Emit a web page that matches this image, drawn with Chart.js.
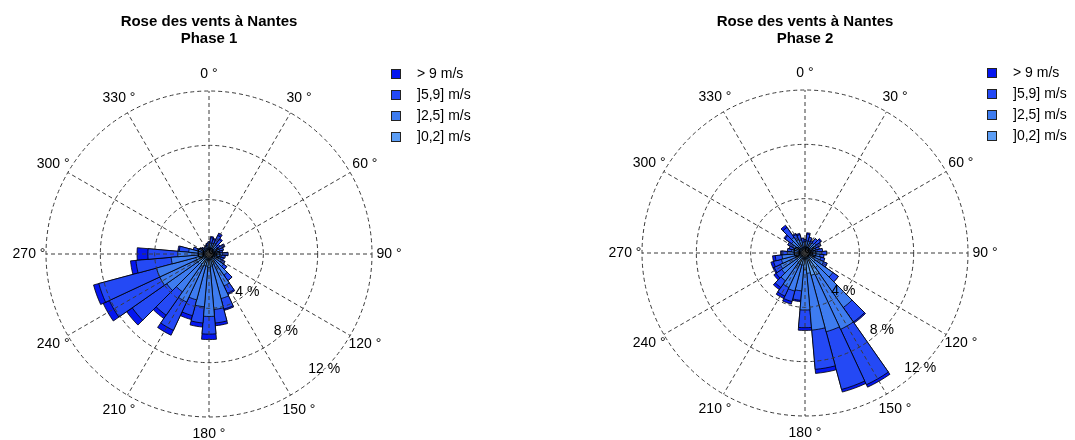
<!DOCTYPE html>
<html><head><meta charset="utf-8">
<script src="https://cdn.jsdelivr.net/npm/chart.js@4.4.0/dist/chart.umd.min.js"></script>
<style>
html,body{margin:0;padding:0;background:#fff;}
#wrap{position:relative;width:1075px;height:440px;overflow:hidden;}
canvas{position:absolute;top:0;}
</style></head><body>
<div id="wrap">
<canvas id="c1" width="537" height="440" style="left:0"></canvas>
<canvas id="c2" width="538" height="440" style="left:537px"></canvas>
</div>
<script>
// ---- data ----
const directions = [0,10,20,30,40,50,60,70,80,90,100,110,120,130,140,150,160,170,180,190,200,210,220,230,240,250,260,270,280,290,300,310,320,330,340,350];
const speedClasses = ['> 9 m/s', ']5,9] m/s', ']2,5] m/s', ']0,2] m/s'];
const speedColors = ['#0516F0', '#2449F5', '#3E7CF0', '#5C9EF6'];
const angleTicks = [0,30,60,90,120,150,180,210,240,270,300,330];
const radialTicks = [0,4,8,12];
const titleMain = 'Rose des vents à Nantes';
const phaseTitles = ['Phase 1', 'Phase 2'];

// Phase 1 (% per direction, per speed class)
const phase1_0_2 = [0.3,0.3,0.3,0.3,0.3,0.3,0.3,0.3,0.3,0.4,0.4,0.4,0.4,0.5,0.6,0.7,0.8,0.9,1.0,0.9,0.9,1.0,0.9,1.0,1.0,1.0,0.8,0.7,0.5,0.4,0.3,0.3,0.3,0.3,0.3,0.3];
const phase1_2_5 = [0.4,0.5,0.5,0.6,0.5,0.4,0.5,0.5,0.4,0.6,0.5,0.5,0.6,0.8,1.3,1.9,2.6,3.2,3.6,3.0,2.6,2.9,2.5,2.8,3.0,3.0,2.0,1.6,1.0,0.5,0.3,0.3,0.2,0.2,0.3,0.3];
const phase1_5_9 = [0.2,0.4,0.3,0.6,0.5,0.3,0.4,0.3,0.3,0.4,0.3,0.2,0.3,0.3,0.5,0.6,0.8,1.0,1.3,1.2,1.2,2.3,2.1,3.1,4.1,4.4,2.6,2.2,0.7,0.3,0.2,0.1,0.1,0.1,0.1,0.2];
const phase1_gt9 = [0.0,0.1,0.1,0.2,0.1,0.0,0.1,0.0,0.0,0.0,0.0,0.0,0.0,0.0,0.0,0.1,0.1,0.2,0.4,0.3,0.3,0.4,0.3,0.5,0.5,0.4,0.4,0.8,0.1,0.0,0.0,0.0,0.0,0.0,0.0,0.0];

// Phase 2
const phase2_0_2 = [0.4,0.4,0.4,0.4,0.4,0.4,0.4,0.4,0.4,0.5,0.5,0.5,0.6,0.9,1.3,1.8,1.7,1.5,1.2,0.9,0.9,0.9,0.8,0.7,0.7,0.6,0.6,0.5,0.4,0.4,0.4,0.4,0.4,0.4,0.4,0.4];
const phase2_2_5 = [0.4,0.5,0.5,0.4,0.5,0.6,0.5,0.4,0.5,0.7,0.6,0.7,0.9,1.6,3.6,4.4,4.3,4.2,3.0,1.9,2.0,1.9,1.7,1.4,1.3,1.2,1.1,0.8,0.6,0.5,0.6,0.8,1.0,0.7,0.6,0.4];
const phase2_5_9 = [0.2,0.5,0.3,0.2,0.4,0.4,0.4,0.3,0.4,0.4,0.3,0.3,0.3,0.5,1.3,4.5,4.4,2.9,1.3,0.7,0.8,0.7,0.6,0.5,0.5,0.6,0.5,0.4,0.3,0.3,0.4,0.6,0.9,0.4,0.4,0.3];
const phase2_gt9 = [0.0,0.1,0.0,0.0,0.0,0.1,0.0,0.0,0.0,0.0,0.0,0.0,0.0,0.0,0.1,0.2,0.2,0.3,0.2,0.1,0.2,0.2,0.2,0.2,0.1,0.2,0.2,0.1,0.0,0.0,0.0,0.1,0.2,0.1,0.1,0.0];

const FONT = '"Liberation Sans", Arial, Helvetica, sans-serif';

function cumulate(arrs) {
  // arrs ordered from slowest to fastest; returns cumulative series
  const out = [];
  let run = directions.map(() => 0);
  arrs.forEach(a => { run = run.map((v, i) => +(v + a[i]).toFixed(3)); out.push(run.slice()); });
  return out;
}

const roseDecor = {
  id: 'roseDecor',
  afterDatasetsDraw(chart) {
    const s = chart.scales.r, ctx = chart.ctx;
    const cx = s.xCenter, cy = s.yCenter;
    const R = s.getDistanceFromCenterForValue(s.max);
    ctx.save();
    ctx.strokeStyle = '#3a3a3a';
    ctx.lineWidth = 1;
    ctx.setLineDash([4, 3]);
    radialTicks.forEach(v => {
      if (v <= 0) return;
      const r = s.getDistanceFromCenterForValue(v);
      ctx.beginPath(); ctx.arc(cx, cy, r, 0, Math.PI * 2); ctx.stroke();
    });
    angleTicks.forEach(a => {
      const t = a * Math.PI / 180;
      ctx.beginPath(); ctx.moveTo(cx, cy);
      ctx.lineTo(cx + R * Math.sin(t), cy - R * Math.cos(t)); ctx.stroke();
    });
    ctx.setLineDash([]);
    ctx.fillStyle = '#000';
    ctx.font = '14px ' + FONT;
    ctx.textAlign = 'center'; ctx.textBaseline = 'middle';
    angleTicks.forEach(a => {
      const t = a * Math.PI / 180, rr = R + 17;
      ctx.fillText(a + ' °', cx + rr * Math.sin(t), cy - rr * Math.cos(t));
    });
    const ta = 135 * Math.PI / 180;
    radialTicks.forEach(v => {
      const r = s.getDistanceFromCenterForValue(v);
      ctx.fillText(v + ' %', cx + r * Math.sin(ta), cy - r * Math.cos(ta));
    });
    ctx.restore();
  },
  afterDraw(chart, args, opts) {
    const s = chart.scales.r, ctx = chart.ctx;
    const cx = s.xCenter, cy = s.yCenter;
    ctx.save();
    ctx.fillStyle = '#000';
    ctx.textAlign = 'center'; ctx.textBaseline = 'middle';
    ctx.font = 'bold 15px ' + FONT;
    ctx.fillText(titleMain, cx, 22);
    ctx.fillText(opts.phase, cx, 39);
    ctx.font = '14px ' + FONT;
    ctx.textAlign = 'left';
    speedClasses.forEach((lab, i) => {
      const y = cy - 180 + 21 * i;
      const x = cx + 182;
      ctx.fillStyle = speedColors[i];
      ctx.fillRect(x, y - 5, 10, 10);
      ctx.strokeStyle = '#222'; ctx.lineWidth = 1;
      ctx.strokeRect(x + 0.5, y - 4.5, 9, 9);
      ctx.fillStyle = '#000';
      ctx.fillText(lab, x + 26, y);
    });
    ctx.restore();
  }
};

function makeRose(id, classes, phase, pad) {
  const cum = cumulate(classes); // [<=2, <=5, <=9, total]
  // dataset 0 = ]0,2] (drawn last, on top) ... dataset 3 = total (> 9 colour, drawn first)
  const datasets = [0, 1, 2, 3].map(k => ({
    label: speedClasses[3 - k],
    data: cum[k],
    backgroundColor: speedColors[3 - k],
    borderColor: '#000',
    borderWidth: 0.8
  }));
  return new Chart(document.getElementById(id), {
    type: 'polarArea',
    data: { labels: directions.map(d => d + ' °'), datasets: datasets },
    options: {
      responsive: false,
      animation: false,
      layout: { padding: pad },
      plugins: { legend: { display: false }, tooltip: { enabled: false }, roseDecor: { phase: phase } },
      scales: {
        r: {
          min: 0, max: 12,
          startAngle: -5,
          ticks: { display: false, stepSize: 4 },
          grid: { display: false },
          angleLines: { display: false },
          pointLabels: { display: false }
        }
      }
    },
    plugins: [roseDecor]
  });
}

makeRose('c1', [phase1_0_2, phase1_2_5, phase1_5_9, phase1_gt9], phaseTitles[0], { left: 46, top: 91, right: 165, bottom: 23 });
makeRose('c2', [phase2_0_2, phase2_2_5, phase2_5_9, phase2_gt9], phaseTitles[1], { left: 105, top: 90, right: 107, bottom: 24 });
</script>
</body></html>
